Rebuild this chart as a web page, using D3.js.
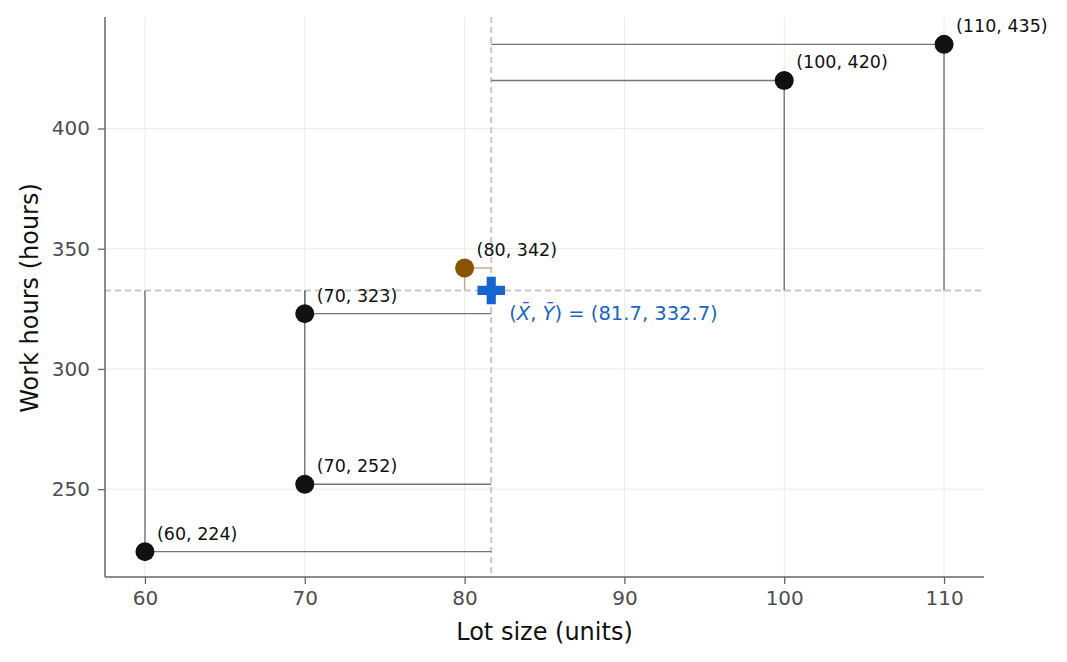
<!DOCTYPE html>
<html>
<head>
<meta charset="utf-8">
<script src="https://cdn.jsdelivr.net/npm/d3@7"></script>
<style>
  body { margin:0; padding:0; background:#fff; }
  svg { font-family:"DejaVu Sans", sans-serif; }
</style>
</head>
<body>
<svg id="chart" width="1067" height="662"></svg>
<script>
// data
var lotSize   = [60, 70, 70, 80, 100, 110];
var workHours = [224, 252, 323, 342, 420, 435];
var highlight = [false, false, false, true, false, false];
var xTicks = [60, 70, 80, 90, 100, 110];
var yTicks = [250, 300, 350, 400];

var W = 1067, H = 662;
var m = {left:105, right:83, top:19, bottom:85};
var svg = d3.select("#chart");

var xMean = d3.mean(lotSize), yMean = d3.mean(workHours);
var xPad = (d3.max(lotSize) - d3.min(lotSize)) * 0.05;
var yPad = (d3.max(workHours) - d3.min(workHours)) * 0.05;

var x = d3.scaleLinear()
  .domain([d3.min(lotSize) - xPad, d3.max(lotSize) + xPad])
  .range([m.left, W - m.right]);
var y = d3.scaleLinear()
  .domain([d3.min(workHours) - yPad, d3.max(workHours) + yPad])
  .range([H - m.bottom, m.top]);

// grid
var grid = svg.append("g");
grid.selectAll(".gx").data(xTicks).enter().append("line")
  .attr("x1", d => x(d)).attr("x2", d => x(d))
  .attr("y1", 17).attr("y2", H - m.bottom)
  .attr("stroke", "#ebebeb").attr("stroke-width", 1);
grid.selectAll(".gy").data(yTicks).enter().append("line")
  .attr("x1", m.left).attr("x2", W - m.right)
  .attr("y1", d => y(d)).attr("y2", d => y(d))
  .attr("stroke", "#ebebeb").attr("stroke-width", 1);

// mean lines
svg.append("line")
  .attr("x1", x(xMean)).attr("x2", x(xMean))
  .attr("y1", 17).attr("y2", H - m.bottom)
  .attr("stroke", "#c8c8cc").attr("stroke-width", 2)
  .attr("stroke-dasharray", "6,4");
svg.append("line")
  .attr("x1", m.left).attr("x2", W - m.right)
  .attr("y1", y(yMean)).attr("y2", y(yMean))
  .attr("stroke", "#c8c8cc").attr("stroke-width", 2)
  .attr("stroke-dasharray", "6,4");

var pts = lotSize.map((d, i) => ({x:d, y:workHours[i], hi:highlight[i]}));

// deviation lines
var dev = svg.append("g");
dev.selectAll(".v").data(pts).enter().append("line")
  .attr("x1", d => x(d.x)).attr("x2", d => x(d.x))
  .attr("y1", d => y(d.y)).attr("y2", y(yMean))
  .attr("stroke", d => d.hi ? "#c9a87a" : "#747474")
  .attr("stroke-width", 1.4);
dev.selectAll(".h").data(pts).enter().append("line")
  .attr("x1", d => x(d.x)).attr("x2", x(xMean))
  .attr("y1", d => y(d.y)).attr("y2", d => y(d.y))
  .attr("stroke", d => d.hi ? "#c9a87a" : "#747474")
  .attr("stroke-width", 1.4);

// axes
var axisColor = "#666";
var gx = svg.append("g").attr("transform", "translate(0," + (H - m.bottom) + ")")
  .call(d3.axisBottom(x).tickValues(xTicks).tickSizeOuter(0).tickSize(7).tickPadding(7));
var gy = svg.append("g").attr("transform", "translate(" + m.left + ",0)")
  .call(d3.axisLeft(y).tickValues(yTicks).tickSizeOuter(0).tickSize(7).tickPadding(8));
[gx, gy].forEach(function(g) {
  g.select(".domain").remove();
  g.selectAll(".tick line").attr("stroke", axisColor).attr("stroke-width", 1.3);
  g.selectAll(".tick text").attr("fill", "#4d4d4d").style("font-size", "20px")
    .style("font-family", "'DejaVu Sans', sans-serif");
});
svg.append("line").attr("x1", m.left).attr("x2", W - m.right)
  .attr("y1", H - m.bottom).attr("y2", H - m.bottom)
  .attr("stroke", axisColor).attr("stroke-width", 1.5);
svg.append("line").attr("x1", m.left).attr("x2", m.left)
  .attr("y1", 17).attr("y2", H - m.bottom)
  .attr("stroke", axisColor).attr("stroke-width", 1.5);

// axis titles
svg.append("text").attr("x", x(85)).attr("y", 640)
  .attr("text-anchor", "middle").attr("fill", "#111")
  .style("font-size", "24px").text("Lot size (units)");
svg.append("text")
  .attr("transform", "translate(38," + y((y.domain()[0] + y.domain()[1]) / 2) + ") rotate(-90)")
  .attr("text-anchor", "middle").attr("fill", "#111")
  .style("font-size", "24px").text("Work hours (hours)");

// points
svg.selectAll(".pt").data(pts).enter().append("circle")
  .attr("cx", d => x(d.x)).attr("cy", d => y(d.y)).attr("r", 9.5)
  .attr("fill", d => d.hi ? "#8a5300" : "#111");
svg.selectAll(".lbl").data(pts).enter().append("text")
  .attr("x", d => x(d.x) + 12).attr("y", d => y(d.y) - 12)
  .attr("fill", "#111").style("font-size", "17.5px")
  .text(d => "(" + d.x + ", " + d.y + ")");

// mean marker
var cx = x(xMean), cy = y(yMean);
svg.append("path")
  .attr("d", d3.symbol(d3.symbolCross, 420)())
  .attr("transform", "translate(" + cx + "," + cy + ")")
  .attr("fill", "#1565d0");
var mt = svg.append("text").attr("x", cx + 18).attr("y", cy + 30)
  .attr("fill", "#1565d0").style("font-size", "19.5px");
mt.append("tspan").text("(");
mt.append("tspan").style("font-style", "italic").text("X\u0304");
mt.append("tspan").text(", ");
mt.append("tspan").style("font-style", "italic").text("Y\u0304");
mt.append("tspan").text(") = (" + xMean.toFixed(1) + ", " + yMean.toFixed(1) + ")");
</script>
</body>
</html>
